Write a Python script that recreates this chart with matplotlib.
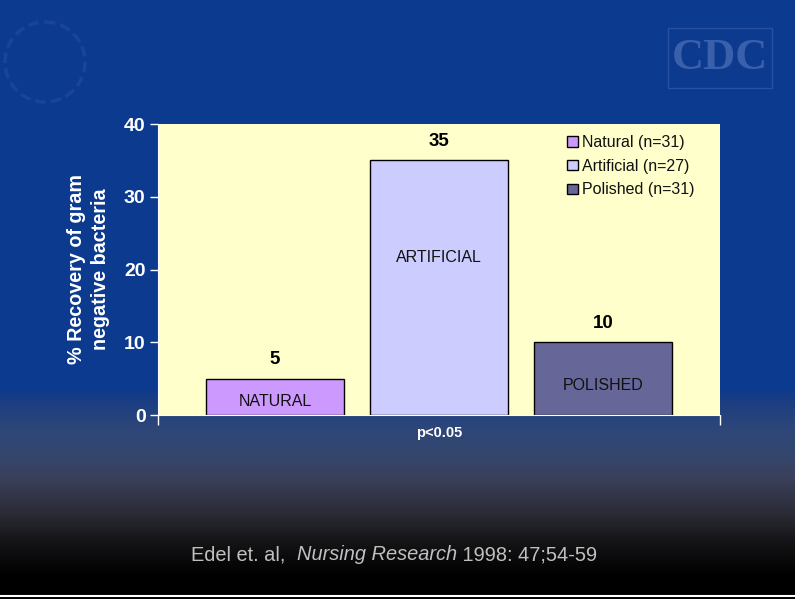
import numpy as np
import matplotlib
matplotlib.use("Agg")
import matplotlib.pyplot as plt
from matplotlib.colors import to_rgb
from matplotlib.patches import Rectangle, Circle

# ---- data ----
series = ["Natural (n=31)", "Artificial (n=27)", "Polished (n=31)"]
values = [5, 35, 10]
bar_labels = ["NATURAL", "ARTIFICIAL", "POLISHED"]
category = "p<0.05"
yticks = [0, 10, 20, 30, 40]
colors = ["#cc99ff", "#ccccff", "#666699"]

W, H = 795, 599
fig = plt.figure(figsize=(W / 100, H / 100), dpi=100)

# ---- background gradient ----
stops = [(0, "#0c3a8e"), (388, "#0c3a8e"), (400, "#1b3d82"), (430, "#2e4778"),
         (455, "#34466c"), (480, "#3a3f58"), (513, "#2b2b36"), (540, "#151518"),
         (567, "#050505"), (575, "#000000"), (599, "#000000")]
ys = np.arange(H)
sp = np.array([s[0] for s in stops])
cols = np.array([to_rgb(s[1]) for s in stops])
grad = np.stack([np.interp(ys, sp, cols[:, k]) for k in range(3)], axis=1)
img = np.repeat(grad[:, None, :], W, axis=1)
bg = fig.add_axes([0, 0, 1, 1], zorder=-5)
bg.imshow(img, aspect="auto", extent=[0, W, H, 0])
bg.set_xlim(0, W)
bg.set_ylim(H, 0)
bg.axis("off")
# bottom white rule
bg.plot([0, W], [595.5, 595.5], color="white", lw=1.5)

# faint logos
bg.add_patch(Circle((45, 62), 40, fill=False, ec="#1c4496", lw=2.5, ls=(0, (3, 1.5))))
bg.add_patch(Rectangle((668, 28), 104, 60, fill=False, ec="#2a50a0", lw=1))
bg.text(720, 58, "CDC", color="#3a60ac", fontsize=32, ha="center", va="center",
        family="Liberation Serif", fontweight="bold")

# ---- chart ----
ax = fig.add_axes([158 / W, (H - 415) / H, 562 / W, 291 / H])
ax.set_facecolor("#ffffcc")
x = np.arange(len(values))
bars = ax.bar(x, values, width=0.84, color=colors, edgecolor="black", lw=1)
for b, s in zip(bars, series):
    b.set_label(s)

ax.set_xlim(-0.713, 2.713)
ax.set_ylim(0, 40)
ax.set_yticks(yticks)
ax.set_yticklabels([str(t) for t in yticks], color="white", fontsize=14,
                   fontweight="bold", family="Liberation Sans")
ax.tick_params(axis="y", colors="white", direction="out", length=6, width=1, pad=3,
               labelcolor="white")
ax.set_xticks([-0.713, 2.713])
ax.set_xticklabels(["", ""])
ax.tick_params(axis="x", which="major", colors="white", direction="out", length=7, width=1)
ax.set_xticks([1], minor=True)
ax.set_xticklabels([category], minor=True, color="white", fontsize=10.5,
                   fontweight="bold", family="Liberation Sans")
ax.tick_params(axis="x", which="minor", length=0, pad=8)

for sname in ["top", "right"]:
    ax.spines[sname].set_visible(False)
ax.spines["left"].set_color("white")
ax.spines["bottom"].set_color("white")

ax.set_ylabel("% Recovery of gram\nnegative bacteria", color="white", fontsize=14.2,
              fontweight="bold", family="Liberation Sans", labelpad=10, linespacing=1.3)

for xi, v in zip(x, values):
    ax.annotate(str(v), (xi, v), xytext=(0, 13.7), textcoords="offset points",
                ha="center", va="center", fontsize=13.5, fontweight="bold",
                family="Liberation Sans", color="black")

inner_y = [1.8, 21.7, 4.0]
for xi, lab, yy in zip(x, bar_labels, inner_y):
    ax.text(xi, yy, lab, ha="center", va="center", fontsize=11.5,
            family="Liberation Sans", color="#111111")

leg = ax.legend(loc="upper left", bbox_to_anchor=(0.714, 0.99), frameon=False,
                prop={"family": "Liberation Sans", "size": 11.5},
                handlelength=0.65, handleheight=0.65, handletextpad=0.25,
                labelspacing=0.55, borderpad=0)
for t in leg.get_texts():
    t.set_color("#111111")

# ---- citation ----
fig.canvas.draw()
r = fig.canvas.get_renderer()
parts = [("Edel et. al,  ", "normal"), ("Nursing Research", "italic"), (" 1998: 47;54-59", "normal")]
texts = []
for s, st in parts:
    t = fig.text(0, 1 - 555 / H, s, fontsize=14.4, family="Liberation Sans", style=st,
                 color="#c0c0c0", va="center", ha="left")
    texts.append(t)
widths = [t.get_window_extent(r).width for t in texts]
total = sum(widths)
xcur = 394 - total / 2
for t, w in zip(texts, widths):
    t.set_x(xcur / W)
    xcur += w

fig.savefig("out.png", dpi=100)
